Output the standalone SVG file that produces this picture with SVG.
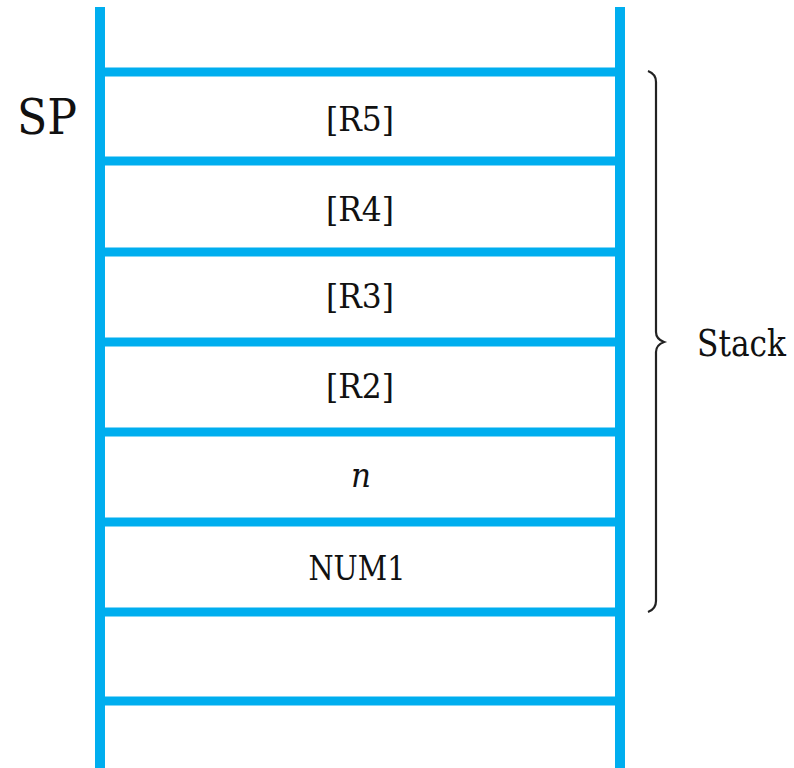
<svg xmlns="http://www.w3.org/2000/svg" width="794" height="768" viewBox="0 0 794 768">
<style>
.rail{stroke:#00AEEF;stroke-width:10;fill:none}
.sep{stroke:#00AEEF;stroke-width:9;fill:none}
.t{font-family:'DejaVu Serif',serif;font-size:34px;fill:#111;text-anchor:middle}
.lbl{font-family:'DejaVu Serif',serif;fill:#111}
.brace{stroke:#222;stroke-width:2.2;fill:none}
</style>
<rect width="794" height="768" fill="#fff"/>
<g id="rails">
<line class="rail" x1="100" y1="7" x2="100" y2="768"/>
<line class="rail" x1="620" y1="7" x2="620" y2="768"/>
</g>
<g id="separators">
<line class="sep" x1="100" y1="72" x2="620" y2="72"/>
<line class="sep" x1="100" y1="161" x2="620" y2="161"/>
<line class="sep" x1="100" y1="252" x2="620" y2="252"/>
<line class="sep" x1="100" y1="342" x2="620" y2="342"/>
<line class="sep" x1="100" y1="432" x2="620" y2="432"/>
<line class="sep" x1="100" y1="522" x2="620" y2="522"/>
<line class="sep" x1="100" y1="612" x2="620" y2="612"/>
<line class="sep" x1="100" y1="701" x2="620" y2="701"/>
</g>
<g id="cell-R5"><text class="t" x="360" y="131" textLength="68" lengthAdjust="spacingAndGlyphs">[R5]</text></g>
<g id="cell-R4"><text class="t" x="360" y="221" textLength="68" lengthAdjust="spacingAndGlyphs">[R4]</text></g>
<g id="cell-R3"><text class="t" x="360" y="308" textLength="68" lengthAdjust="spacingAndGlyphs">[R3]</text></g>
<g id="cell-R2"><text class="t" x="360" y="398" textLength="68" lengthAdjust="spacingAndGlyphs">[R2]</text></g>
<g id="cell-n"><text class="t" x="361" y="487" font-style="italic" textLength="20" lengthAdjust="spacingAndGlyphs">n</text></g>
<g id="cell-NUM1"><text class="t" x="357" y="580" font-size="36" textLength="97" lengthAdjust="spacingAndGlyphs">NUM1</text></g>
<g id="sp-label"><text class="lbl" x="17" y="134" font-size="48" textLength="60" lengthAdjust="spacingAndGlyphs">SP</text></g>
<g id="stack-brace">
<path class="brace" d="M648,71 Q656,74 656,82 L656,332 Q656,339 664,342 Q656,345 656,352 L656,601 Q656,609 648,612"/>
<text class="lbl" x="697" y="356" font-size="38" textLength="89" lengthAdjust="spacingAndGlyphs">Stack</text>
</g>
</svg>
